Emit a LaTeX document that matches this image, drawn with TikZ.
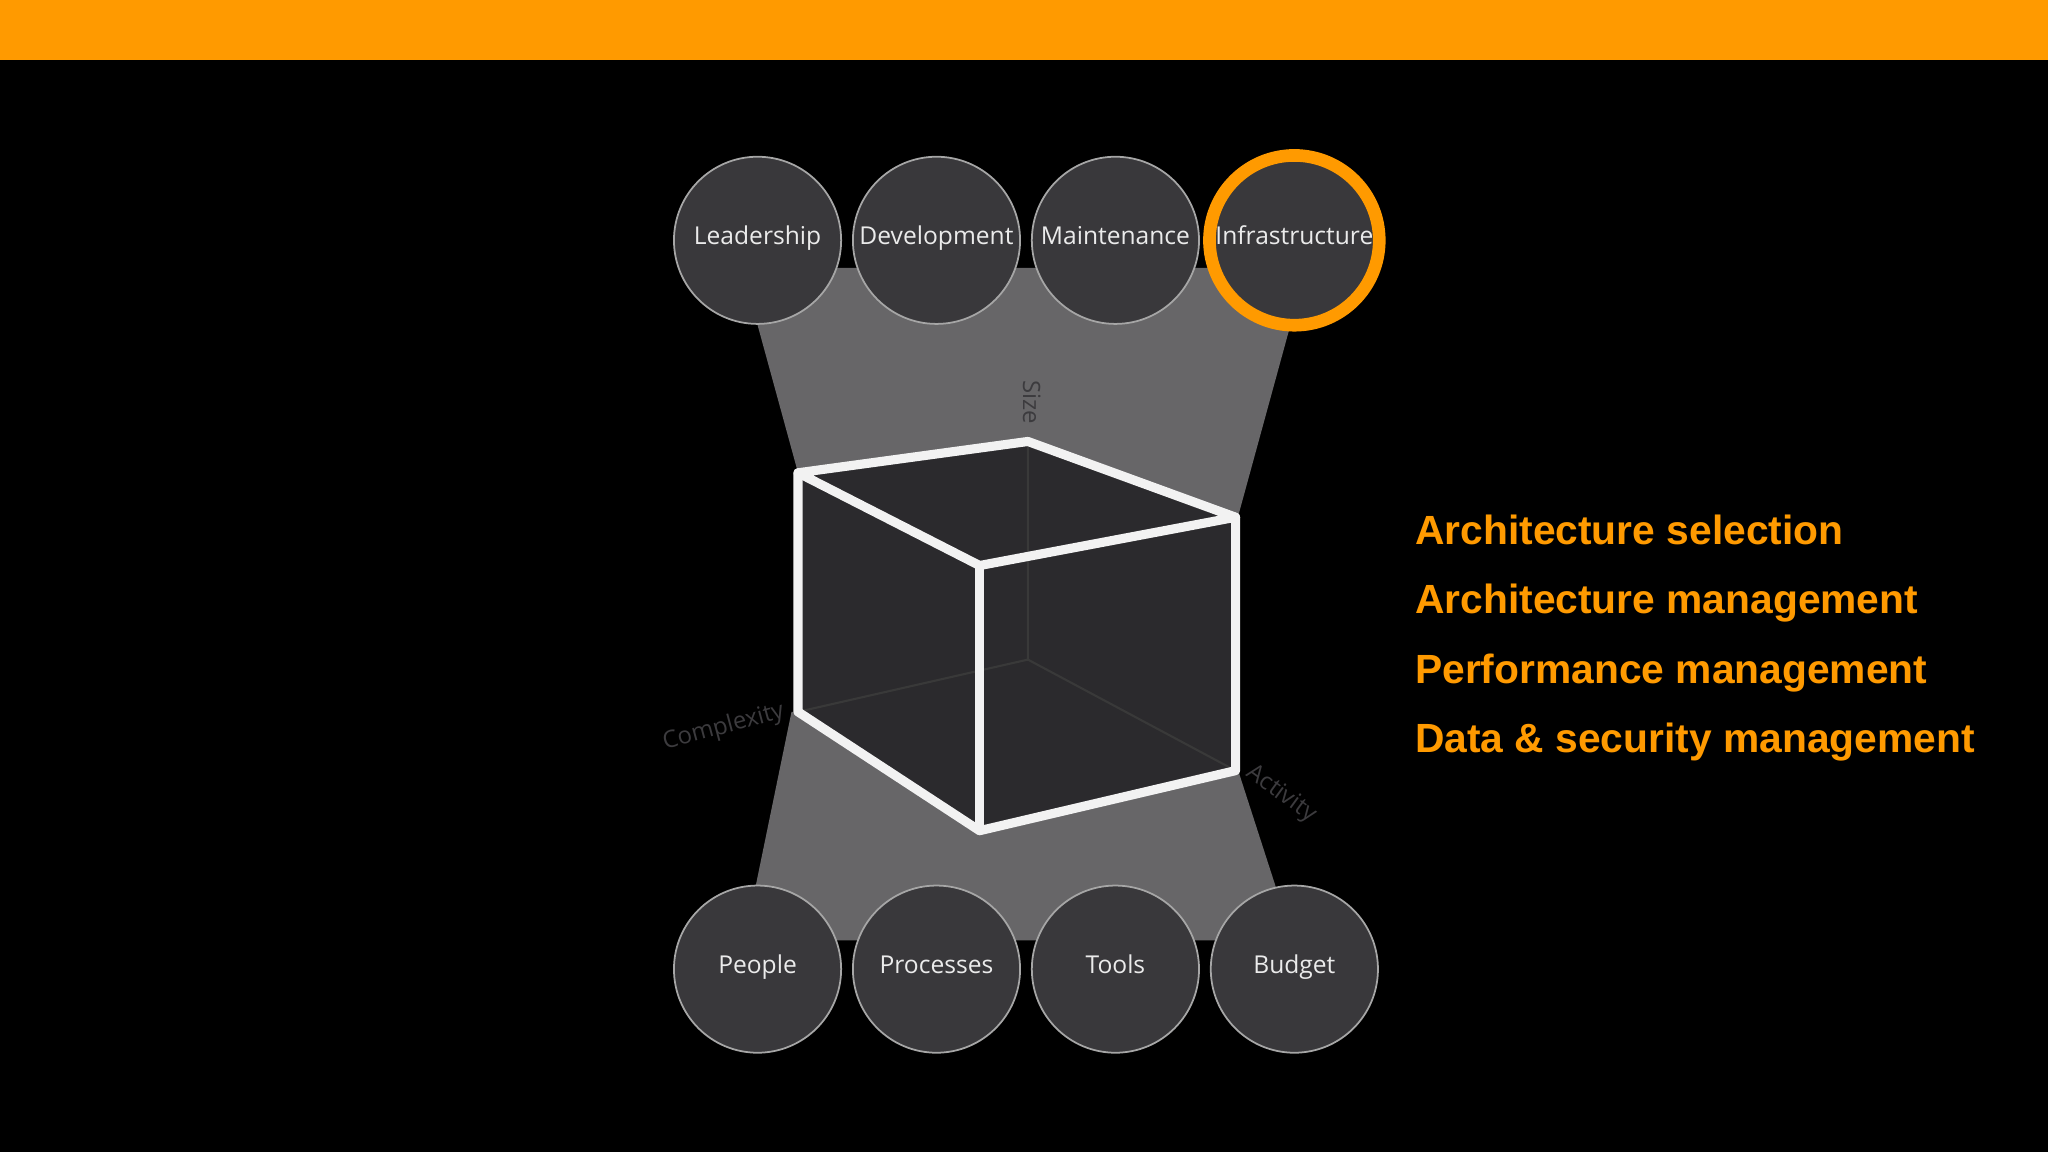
\documentclass[tikz,border=0pt]{standalone}
\usepackage{fontspec}
\setmainfont{Open Sans}
\newfontfamily\arialb{Liberation Sans}[BoldFont={Liberation Sans Bold}]
\definecolor{orng}{HTML}{FF9A00}
\definecolor{cfill}{HTML}{39383B}
\definecolor{cubef}{HTML}{2B2A2D}
\definecolor{funnel}{HTML}{676668}
\definecolor{axlbl}{HTML}{3C3B3E}
\begin{document}
\begin{tikzpicture}[x=0.013061cm,y=-0.013061cm,
  circ/.style={circle,draw=gray!70,line width=0.5pt,fill=cfill,minimum size=128*0.013061cm,inner sep=0pt,text=white!92!black,font=\fontsize{7}{8}\selectfont,text height=4.6pt,text depth=2.1pt},
  edge/.style={white!90!gray,line width=2.6pt,line join=round,line cap=round},
  hid/.style={gray!45!black,line width=0.6pt},
  axl/.style={text=axlbl,font=\fontsize{6.8}{7}\selectfont},
  rtxt/.style={anchor=base west,inner sep=0pt,text=orng,font=\arialb\bfseries\fontsize{11.6}{13}\selectfont}]
\fill[black] (0,0) rectangle (1568,882);
\useasboundingbox (0,0) rectangle (1568,882);
\fill[orng] (0,0) rectangle (1568,46);
% funnels
\fill[funnel] (568,205) -- (1000,205) -- (948,395) -- (611,362) -- cycle;
\fill[funnel] (606,545) -- (948,590) -- (990,720) -- (570,720) -- cycle;
% cube
\coordinate (A) at (611,362); \coordinate (B) at (787,338);
\coordinate (C) at (946,396); \coordinate (D) at (750,433);
\coordinate (E) at (611,545); \coordinate (F) at (750,636);
\coordinate (G) at (946,590); \coordinate (H) at (787,505);
\fill[cubef] (A) -- (B) -- (C) -- (G) -- (F) -- (E) -- cycle;
\draw[hid] (B) -- (H) (E) -- (H) -- (G);
\draw[edge] (A) -- (B) -- (C) -- (D) -- cycle;
\draw[edge] (A) -- (E) -- (F) -- (G) -- (C);
\draw[edge] (D) -- (F);
% axis labels
\node[axl,rotate=-90] (size) at (790,308) {Size};
\node[axl,rotate=15] (cx) at (554,557) {Complexity};
\node[axl,rotate=-36] (act) at (981,608) {Activity};
% circles
\node[circ] (lead) at (580,184) {Leadership};
\node[circ] (dev) at (717,184) {Development};
\node[circ] (mnt) at (854,184) {Maintenance};
\node[circ,draw=orng,line width=3.6pt,minimum size=130*0.013061cm] (inf) at (991,184) {Infrastructure};
\node[circ] (ppl) at (580,742) {People};
\node[circ] (proc) at (717,742) {Processes};
\node[circ] (tools) at (854,742) {Tools};
\node[circ] (bud) at (991,742) {Budget};
% right text
\node[rtxt] (t1) at (1083,417) {Architecture selection};
\node[rtxt] (t2) at (1083,470) {Architecture management};
\node[rtxt] (t3) at (1083,523) {Performance management};
\node[rtxt] (t4) at (1083,576) {Data \& security management};
\end{tikzpicture}
\end{document}
